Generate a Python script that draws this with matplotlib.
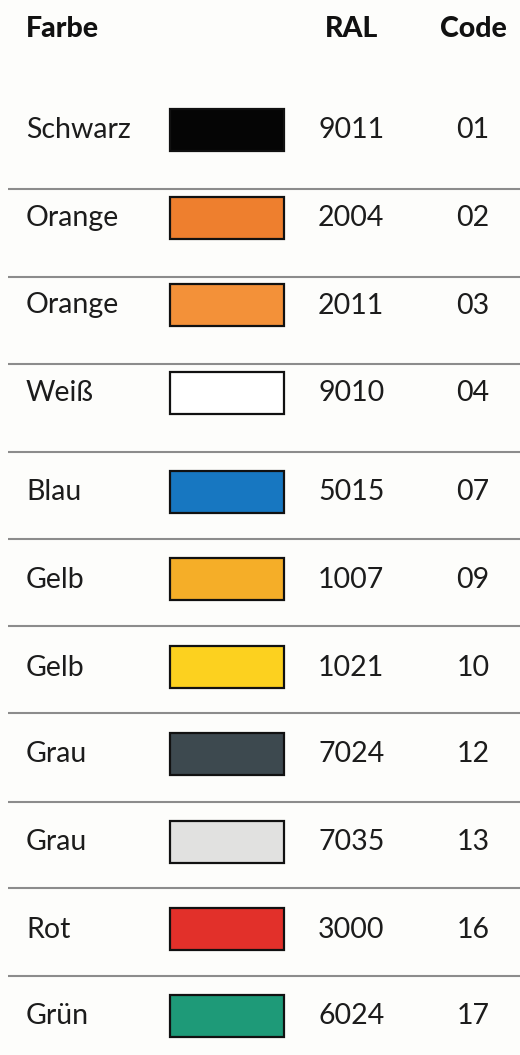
import matplotlib.pyplot as plt
from matplotlib.patches import Rectangle

plt.close()

# Données du tableau
farben = ["Schwarz", "Orange", "Orange", "Weiß", "Blau", "Gelb", "Gelb",
          "Grau", "Grau", "Rot", "Grün"]
ral = ["9011", "2004", "2011", "9010", "5015", "1007", "1021",
       "7024", "7035", "3000", "6024"]
codes = ["01", "02", "03", "04", "07", "09", "10", "12", "13", "16", "17"]
farbwerte = ["#050505", "#ee7f2e", "#f39139", "#ffffff", "#1777c1", "#f5ae28",
             "#fcd11f", "#3d494f", "#e1e1e0", "#e2302a", "#1e9a78"]

# Mise en page (pixels)
W, H = 520, 1055
zeilen_y = [130, 217.5, 305, 392.5, 492, 579, 667, 754, 842, 929, 1016]
linien_y = [189, 277, 364, 452, 539, 626, 713, 802, 888, 976]
kopf_y = 37
x_name = 26
x_swatch, swatch_b, swatch_h = 170, 114, 42
x_ral = 318
x_code = 473
x_ral_kopf = 352
fs = 20.5
textfarbe = "#1c1c1c"

fig = plt.figure(figsize=(W / 100, H / 100), dpi=100)
fig.patch.set_facecolor("#fdfdfb")
ax = fig.add_axes([0, 0, 1, 1])
ax.set_xlim(0, W)
ax.set_ylim(H, 0)
ax.axis("off")

# En-tête
kopf = dict(fontsize=fs, fontweight="black", family="Lato", color="#111111",
            va="baseline")
ax.text(x_name, kopf_y, "Farbe", ha="left", **kopf)
ax.text(x_ral_kopf, kopf_y, "RAL", ha="center", **kopf)
ax.text(x_code, kopf_y, "Code", ha="center", **kopf)

# Lignes de séparation
ax.hlines(linien_y, 8, W, color="#8c8c8c", lw=1.5)

# Lignes du tableau
for i in range(len(farben)):
    y = zeilen_y[i]
    ax.text(x_name, y + 8.5, farben[i], ha="left", va="baseline",
            fontsize=fs, family="Lato", color=textfarbe)
    ax.add_patch(Rectangle((x_swatch, y - swatch_h / 2), swatch_b, swatch_h,
                           facecolor=farbwerte[i], edgecolor="#111111",
                           lw=1.6))
    ax.text(x_ral, y + 8.5, ral[i], ha="left", va="baseline",
            fontsize=fs, family="Lato", color=textfarbe)
    ax.text(x_code, y + 8.5, codes[i], ha="center", va="baseline",
            fontsize=fs, family="Lato", color=textfarbe)

fig.savefig("out.png", dpi=100, facecolor=fig.get_facecolor())
